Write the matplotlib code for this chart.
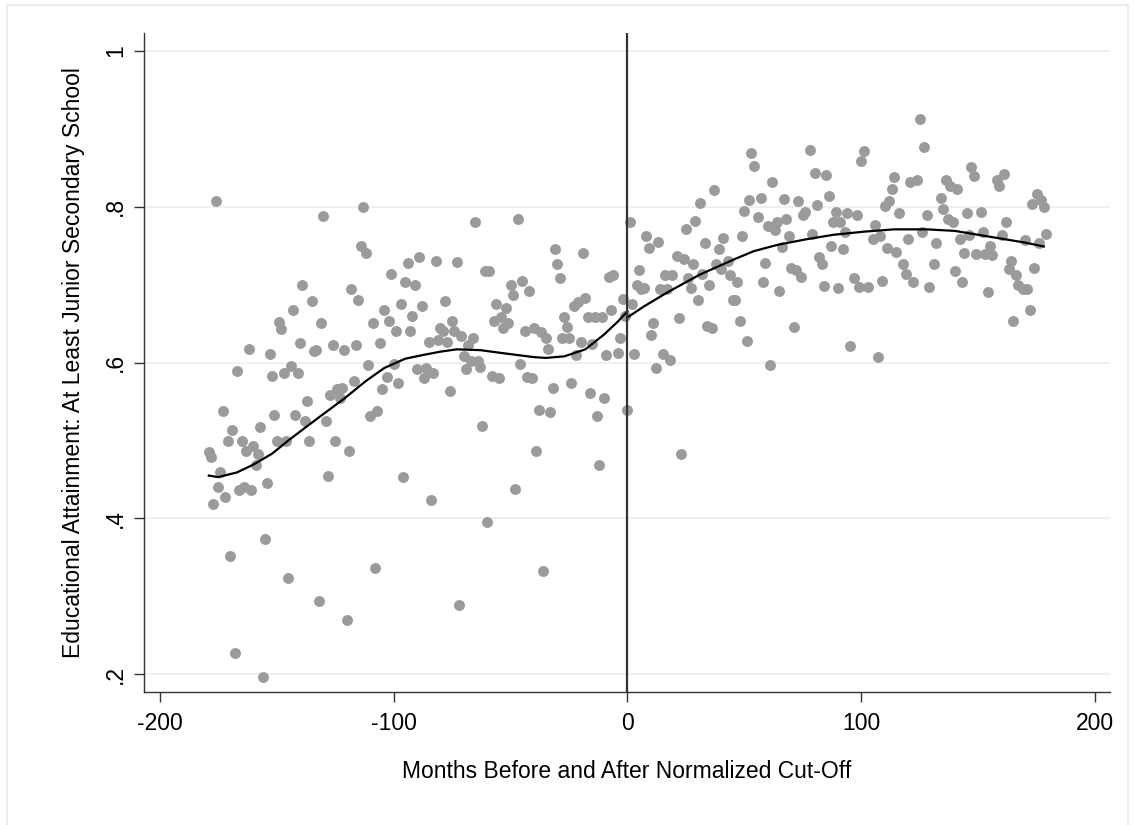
import numpy as np
import matplotlib
matplotlib.use("Agg")
import matplotlib.pyplot as plt
from matplotlib.patches import Rectangle

plt.rcParams["font.family"] = ["Liberation Sans", "DejaVu Sans"]
plt.rcParams["axes.unicode_minus"] = False

# binned means by month relative to cut-off
months = [
    -179, -178, -177, -176, -175, -174, -173, -172, -171, -170, -169, -168, -167, -166, -165,
    -164, -163, -162, -161, -160, -159, -158, -157, -156, -155, -154, -153, -152, -151, -150,
    -149, -148, -147, -146, -145, -144, -143, -142, -141, -140, -139, -138, -137, -136, -135,
    -134, -133, -132, -131, -130, -129, -128, -127, -126, -125, -124, -123, -122, -121, -120,
    -119, -118, -117, -116, -115, -114, -113, -112, -111, -110, -109, -108, -107, -106, -105,
    -104, -103, -102, -101, -100, -99, -98, -97, -96, -95, -94, -93, -92, -91, -90,
    -89, -88, -87, -86, -85, -84, -83, -82, -81, -80, -79, -78, -77, -76, -75,
    -74, -73, -72, -71, -70, -69, -68, -67, -66, -65, -64, -63, -62, -61, -60,
    -59, -58, -57, -56, -55, -54, -53, -52, -51, -50, -49, -48, -47, -46, -45,
    -44, -43, -42, -41, -40, -39, -38, -37, -36, -35, -34, -33, -32, -31, -30,
    -29, -28, -27, -26, -25, -24, -23, -22, -21, -20, -19, -18, -17, -16, -15,
    -14, -13, -12, -11, -10, -9, -8, -7, -6, -4, -3, -2, -1, 0,
    1, 2, 3, 4, 5, 6, 7, 8, 9, 10, 11, 12, 13, 14, 15,
    16, 17, 18, 19, 21, 22, 23, 24, 25, 26, 27, 28, 29, 30, 31,
    32, 33, 34, 35, 36, 37, 38, 39, 40, 41, 43, 44, 45, 46, 47,
    48, 49, 50, 51, 52, 53, 54, 56, 57, 58, 59, 60, 61, 62, 63,
    64, 65, 66, 67, 68, 69, 70, 71, 72, 73, 74, 75, 76, 78, 79,
    80, 81, 82, 83, 84, 85, 86, 87, 88, 89, 90, 91, 92, 93, 94,
    95, 97, 98, 99, 100, 101, 103, 105, 106, 107, 108, 109, 110, 111, 112,
    113, 114, 115, 116, 118, 119, 120, 121, 122, 124, 125, 126, 127, 128, 129,
    131, 132, 134, 135, 136, 137, 138, 139, 140, 141, 142, 143, 144, 145, 146,
    147, 148, 149, 151, 152, 153, 154, 155, 156, 158, 159, 160, 161, 162, 163,
    164, 165, 166, 167, 169, 170, 171, 172, 173, 174, 175, 176, 177, 178, 179,
]
share = [
    0.485, 0.479, 0.419, 0.808, 0.440, 0.459, 0.538, 0.428, 0.500, 0.352, 0.514, 0.227, 0.589, 0.436, 0.500,
    0.440, 0.486, 0.618, 0.436, 0.493, 0.469, 0.483, 0.517, 0.196, 0.374, 0.446, 0.611, 0.583, 0.533, 0.500,
    0.652, 0.643, 0.587, 0.500, 0.324, 0.595, 0.667, 0.533, 0.586, 0.625, 0.700, 0.525, 0.551, 0.500, 0.679,
    0.615, 0.616, 0.294, 0.651, 0.788, 0.525, 0.454, 0.559, 0.622, 0.500, 0.566, 0.554, 0.568, 0.616, 0.270,
    0.486, 0.695, 0.577, 0.622, 0.680, 0.750, 0.800, 0.741, 0.597, 0.532, 0.651, 0.337, 0.538, 0.625, 0.566,
    0.667, 0.581, 0.653, 0.714, 0.598, 0.641, 0.574, 0.675, 0.453, 0.704, 0.728, 0.641, 0.660, 0.700, 0.592,
    0.735, 0.673, 0.580, 0.593, 0.627, 0.424, 0.587, 0.730, 0.629, 0.644, 0.640, 0.679, 0.627, 0.563, 0.653,
    0.640, 0.729, 0.289, 0.634, 0.608, 0.592, 0.622, 0.602, 0.632, 0.780, 0.602, 0.594, 0.519, 0.717, 0.396,
    0.718, 0.583, 0.653, 0.675, 0.580, 0.658, 0.644, 0.670, 0.651, 0.700, 0.687, 0.438, 0.784, 0.598, 0.705,
    0.640, 0.581, 0.692, 0.580, 0.644, 0.486, 0.539, 0.639, 0.333, 0.632, 0.618, 0.537, 0.567, 0.746, 0.727,
    0.709, 0.632, 0.658, 0.646, 0.632, 0.574, 0.673, 0.610, 0.678, 0.627, 0.741, 0.683, 0.658, 0.561, 0.624,
    0.658, 0.531, 0.469, 0.658, 0.555, 0.610, 0.710, 0.668, 0.713, 0.612, 0.632, 0.681, 0.660, 0.539,
    0.780, 0.675, 0.611, 0.700, 0.719, 0.695, 0.696, 0.762, 0.747, 0.636, 0.651, 0.593, 0.755, 0.695, 0.611,
    0.712, 0.695, 0.603, 0.713, 0.737, 0.657, 0.483, 0.733, 0.772, 0.709, 0.696, 0.726, 0.782, 0.680, 0.805,
    0.714, 0.754, 0.647, 0.700, 0.644, 0.821, 0.726, 0.746, 0.720, 0.760, 0.731, 0.712, 0.680, 0.680, 0.703,
    0.653, 0.762, 0.795, 0.628, 0.809, 0.869, 0.852, 0.787, 0.811, 0.703, 0.728, 0.775, 0.597, 0.832, 0.770,
    0.780, 0.692, 0.748, 0.810, 0.784, 0.763, 0.721, 0.646, 0.719, 0.807, 0.710, 0.789, 0.793, 0.873, 0.765,
    0.843, 0.802, 0.736, 0.726, 0.698, 0.841, 0.814, 0.750, 0.780, 0.793, 0.696, 0.780, 0.746, 0.767, 0.792,
    0.621, 0.709, 0.789, 0.697, 0.859, 0.872, 0.697, 0.759, 0.777, 0.607, 0.762, 0.705, 0.801, 0.747, 0.807,
    0.823, 0.838, 0.742, 0.792, 0.726, 0.714, 0.758, 0.832, 0.703, 0.834, 0.912, 0.768, 0.877, 0.789, 0.697,
    0.726, 0.753, 0.811, 0.797, 0.834, 0.784, 0.827, 0.780, 0.717, 0.823, 0.758, 0.703, 0.741, 0.792, 0.764,
    0.851, 0.840, 0.739, 0.793, 0.768, 0.739, 0.690, 0.750, 0.738, 0.834, 0.826, 0.764, 0.842, 0.780, 0.720,
    0.731, 0.653, 0.713, 0.700, 0.695, 0.757, 0.694, 0.667, 0.803, 0.721, 0.816, 0.754, 0.809, 0.800, 0.765,
]

# local polynomial fit, each side of the cut-off
fit_left_x = [-179, -175, -167, -160, -152, -145, -138, -130, -121, -112, -104, -95,
              -87, -80, -73, -63, -53, -40, -35, -27, -18, -10, -4, 0]
fit_left_y = [0.455, 0.453, 0.459, 0.469, 0.483, 0.500, 0.516, 0.534, 0.554, 0.576, 0.593, 0.605,
              0.610, 0.614, 0.617, 0.616, 0.612, 0.607, 0.606, 0.608, 0.617, 0.636, 0.653, 0.666]
fit_right_x = [0, 7, 17, 31, 46, 54, 64, 76, 88, 101, 114, 128, 140, 150, 160, 170, 178]
fit_right_y = [0.658, 0.672, 0.690, 0.713, 0.733, 0.743, 0.751, 0.758, 0.764, 0.768, 0.771,
               0.771, 0.769, 0.764, 0.759, 0.754, 0.749]

x_ticks = [-200, -100, 0, 100, 200]
y_ticks = [0.2, 0.4, 0.6, 0.8, 1.0]
y_tick_labels = [".2", ".4", ".6", ".8", "1"]


fig = plt.figure(figsize=(11.34, 8.25), dpi=100)
# light outer frame (Stata graph region)
fig.add_artist(Rectangle((7 / 1134, -0.01), 1121 / 1134, 1 - 5 / 825 + 0.01,
                         transform=fig.transFigure, fill=False,
                         edgecolor="#e6eeef", lw=1.6))
ax = fig.add_axes([0.1270, 0.1610, 0.8518, 0.7990])

ax.scatter(months, share, s=62, color="#9b9b9b", linewidths=0, zorder=2)
ax.plot(fit_left_x, fit_left_y, color="black", lw=1.6, zorder=3)
ax.plot(fit_right_x, fit_right_y, color="black", lw=1.6, zorder=3)
ax.axvline(0, color="#333333", lw=1.6, zorder=4)

ax.set_xlim(-206.7, 206.3)
ax.set_ylim(0.177, 1.023)
ax.set_xticks(x_ticks)
ax.set_yticks(y_ticks)
ax.set_yticklabels(y_tick_labels, rotation=90, va="center")
ax.tick_params(axis="both", labelsize=16.5, length=7, width=1, color="#333333", pad=5)
ax.tick_params(axis="x", pad=7)
ax.grid(axis="y", color="#e8f0f2", lw=1.2, zorder=0)
ax.set_axisbelow(True)

for side in ["top", "right"]:
    ax.spines[side].set_visible(False)
for side in ["left", "bottom"]:
    ax.spines[side].set_color("#333333")
    ax.spines[side].set_linewidth(1)

ax.set_xlabel("Months Before and After Normalized Cut-Off", fontsize=16.5, labelpad=18)
ax.set_ylabel("Educational Attainment: At Least Junior Secondary School", fontsize=16.5, labelpad=14)

fig.savefig("out.png", dpi=100)
